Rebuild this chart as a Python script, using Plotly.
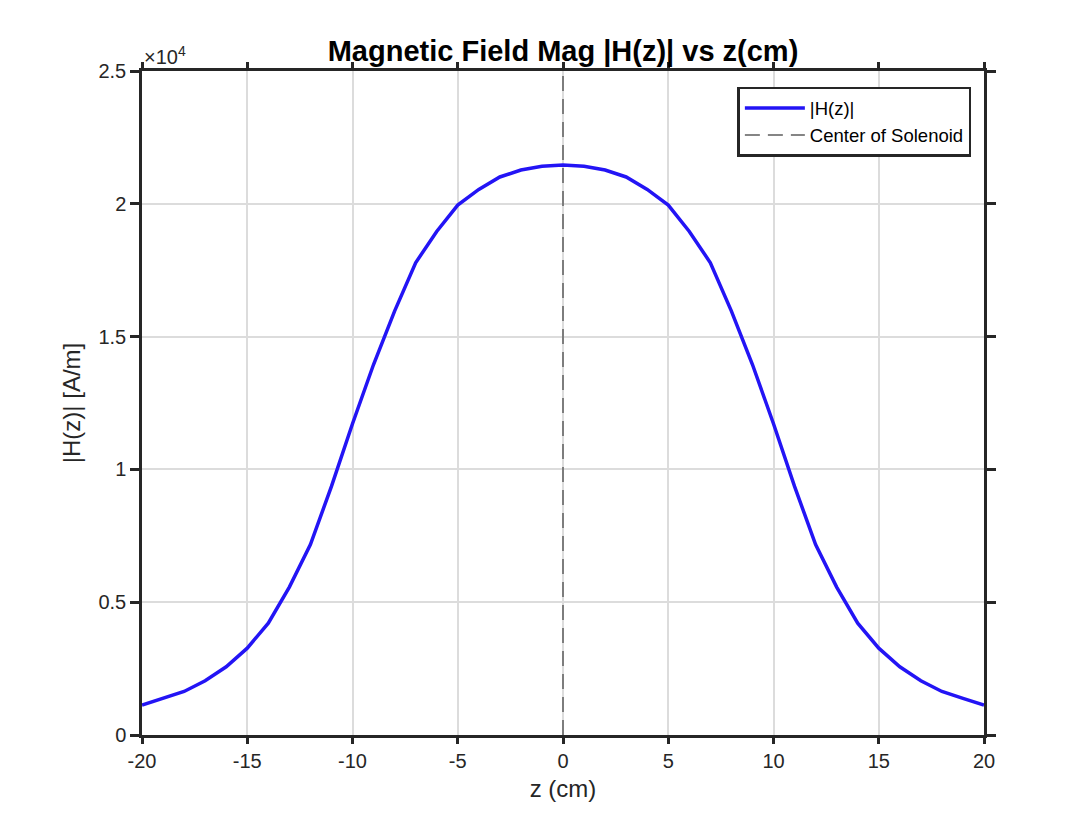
import plotly.graph_objects as go

# z positions (cm) and field magnitude |H(z)| (A/m)
z_cm = list(range(-20, 21))
h_mag = [1130, 1380, 1640, 2040, 2570, 3270, 4210, 5570, 7170, 9360,
         11720, 13950, 15960, 17780, 18960, 19950, 20540, 21010, 21270, 21410,
         21460,
         21410, 21270, 21010, 20540, 19950, 18960, 17780, 15960, 13950, 11720,
         9360, 7170, 5570, 4210, 3270, 2570, 2040, 1640, 1380, 1130]

center_z = [0, 0]
center_h = [0, 25000]

x_ticks = [-20, -15, -10, -5, 0, 5, 10, 15, 20]
x_ticktext = ['-20', '-15', '-10', '-5', '0', '5', '10', '15', '20']
y_ticks = [0, 5000, 10000, 15000, 20000, 25000]
y_ticktext = ['0', '0.5', '1', '1.5', '2', '2.5']

font_family = 'Liberation Sans, Arial, sans-serif'
axis_col = '#262626'

fig = go.Figure()
fig.add_trace(go.Scatter(
    x=z_cm, y=h_mag, mode='lines', name='|H(z)|',
    line=dict(color='rgb(35,20,245)', width=3.5)
))
fig.add_trace(go.Scatter(
    x=center_z, y=center_h, mode='lines', name='Center of Solenoid',
    line=dict(color='#5e5e5e', width=1.5, dash='15px,8px')
))

axis_common = dict(
    showline=True, linecolor=axis_col, linewidth=2.5, mirror='ticks',
    ticks='outside', tickwidth=2.5, tickcolor=axis_col,
    showgrid=True, gridcolor='#dcdcdc', gridwidth=2,
    zeroline=False,
    tickfont=dict(size=20, color=axis_col, family=font_family),
)

fig.update_xaxes(
    range=[-20, 20], tickvals=x_ticks, ticktext=x_ticktext, ticklen=6,
    title=dict(text='z (cm)', font=dict(size=24, color=axis_col, family=font_family), standoff=10),
    **axis_common
)
fig.update_yaxes(
    range=[0, 25000], tickvals=y_ticks, ticktext=y_ticktext, ticklen=9,
    title=dict(text='|H(z)| [A/m]', font=dict(size=24, color=axis_col, family=font_family), standoff=12),
    **axis_common
)

# the page body adds 8 px around the figure, so size/margins account for it
fig.update_layout(
    width=1079, height=818,
    margin=dict(l=134, r=103, t=63, b=91),
    paper_bgcolor='white', plot_bgcolor='white',
    font=dict(family=font_family, color=axis_col),
    title=dict(text='<b>Magnetic Field Mag |H(z)| vs z(cm)</b>',
               x=(134 + 134 + 842) / 2 / 1079, xanchor='center',
               y=1 - 43 / 818, yanchor='middle',
               font=dict(size=29, color='black', family=font_family)),
    legend=dict(x=0.985, y=0.976, xanchor='right', yanchor='top',
                bgcolor='white', bordercolor=axis_col, borderwidth=2.5,
                font=dict(size=18.5, color='black', family=font_family),
                tracegroupgap=0, itemwidth=60),
    showlegend=True,
)

# exponent label like MATLAB
fig.add_annotation(text='×10<sup>4</sup>', xref='paper', yref='paper',
                   x=0.0, y=1.0, xanchor='left', yanchor='bottom', yshift=1,
                   showarrow=False, font=dict(size=20, color=axis_col, family=font_family))

fig.write_html("out.html")
